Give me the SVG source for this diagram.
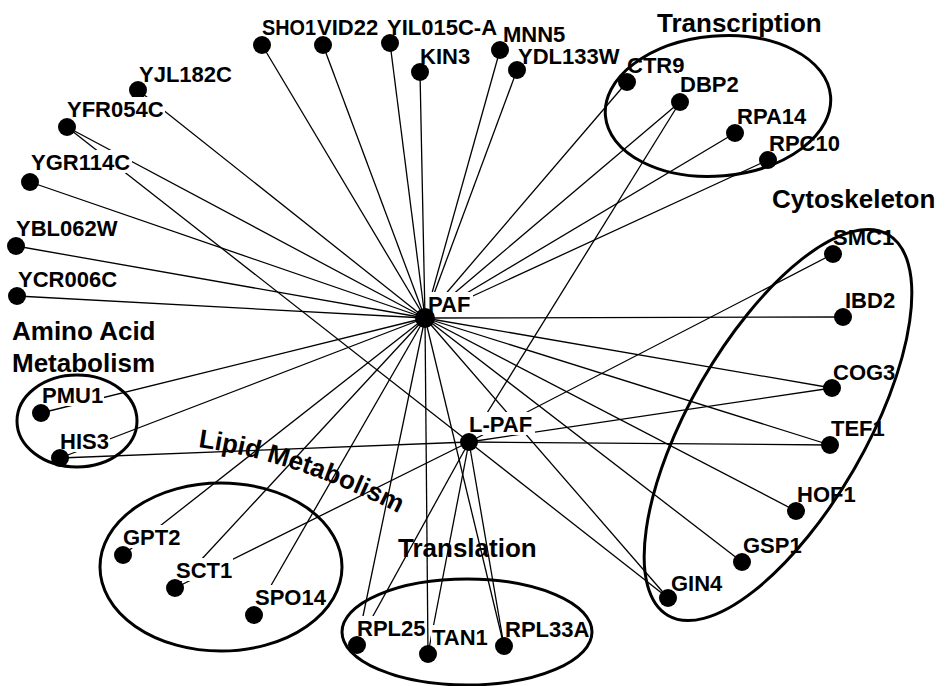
<svg xmlns="http://www.w3.org/2000/svg" width="946" height="686" viewBox="0 0 946 686">
<style>
.bg{fill:#fff}
#connectors line{stroke:#000;stroke-width:1.3;fill:none}
.n circle{fill:#000}
.n rect{fill:#fff}
.n text{font-family:"Liberation Sans",Arial,sans-serif;font-weight:bold;font-size:22px;fill:#000}
.cl ellipse{fill:none;stroke:#000;stroke-width:3}
.cl text{font-family:"Liberation Sans",Arial,sans-serif;font-weight:bold;font-size:26px;fill:#000}
</style>
<defs>
<path id="lipidPath" d="M198,447 Q298,461 404,516"/>
</defs>
<rect class="bg" x="0" y="0" width="946" height="686"/>
<g id="connectors">
<line x1="425" y1="318" x2="262" y2="45"/>
<line x1="425" y1="318" x2="323" y2="45"/>
<line x1="425" y1="318" x2="390" y2="43"/>
<line x1="425" y1="318" x2="420" y2="72"/>
<line x1="425" y1="318" x2="500" y2="50"/>
<line x1="425" y1="318" x2="517" y2="70"/>
<line x1="425" y1="318" x2="627" y2="82"/>
<line x1="425" y1="318" x2="680" y2="102"/>
<line x1="425" y1="318" x2="735" y2="133"/>
<line x1="425" y1="318" x2="768" y2="160"/>
<line x1="425" y1="318" x2="138" y2="90"/>
<line x1="425" y1="318" x2="67" y2="127"/>
<line x1="425" y1="318" x2="30" y2="182"/>
<line x1="425" y1="318" x2="16" y2="246"/>
<line x1="425" y1="318" x2="17" y2="296"/>
<line x1="425" y1="318" x2="41" y2="413"/>
<line x1="425" y1="318" x2="60" y2="458"/>
<line x1="425" y1="318" x2="123" y2="555"/>
<line x1="425" y1="318" x2="175" y2="588"/>
<line x1="425" y1="318" x2="254" y2="615"/>
<line x1="425" y1="318" x2="357" y2="645"/>
<line x1="425" y1="318" x2="428" y2="654"/>
<line x1="425" y1="318" x2="504" y2="646"/>
<line x1="425" y1="318" x2="668" y2="598"/>
<line x1="425" y1="318" x2="742" y2="562"/>
<line x1="425" y1="318" x2="796" y2="511"/>
<line x1="425" y1="318" x2="830" y2="445"/>
<line x1="425" y1="318" x2="832" y2="388"/>
<line x1="425" y1="318" x2="843" y2="317"/>
<line x1="469" y1="442" x2="67" y2="127"/>
<line x1="469" y1="442" x2="60" y2="458"/>
<line x1="469" y1="442" x2="175" y2="588"/>
<line x1="469" y1="442" x2="357" y2="645"/>
<line x1="469" y1="442" x2="428" y2="654"/>
<line x1="469" y1="442" x2="504" y2="646"/>
<line x1="469" y1="442" x2="668" y2="598"/>
<line x1="469" y1="442" x2="830" y2="445"/>
<line x1="469" y1="442" x2="832" y2="388"/>
<line x1="469" y1="442" x2="833" y2="254"/>
<line x1="469" y1="442" x2="680" y2="102"/>
</g>
<g id="node-SHO1" class="n"><rect x="261" y="15" width="55" height="23"/><text x="262" y="35" textLength="54" lengthAdjust="spacingAndGlyphs">SHO1</text><circle cx="262" cy="45" r="9"/></g>
<g id="node-VID22" class="n"><rect x="316" y="15" width="68" height="23"/><text x="317" y="35">VID22</text><circle cx="323" cy="45" r="9"/></g>
<g id="node-YIL015C-A" class="n"><rect x="386" y="15" width="112" height="23"/><text x="387" y="35">YIL015C-A</text><circle cx="390" cy="43" r="9"/></g>
<g id="node-MNN5" class="n"><rect x="502" y="23" width="64" height="21"/><text x="503" y="42">MNN5</text><circle cx="500" cy="50" r="9"/></g>
<g id="node-KIN3" class="n"><rect x="419" y="45" width="52" height="22"/><text x="420" y="64">KIN3</text><circle cx="420" cy="72" r="9"/></g>
<g id="node-YDL133W" class="n"><rect x="517" y="46" width="103" height="21"/><text x="518" y="64">YDL133W</text><circle cx="517" cy="70" r="9"/></g>
<g id="node-CTR9" class="n"><rect x="626" y="53" width="59" height="23"/><text x="627" y="73">CTR9</text><circle cx="627" cy="82" r="9"/></g>
<g id="node-DBP2" class="n"><rect x="679" y="72" width="61" height="23"/><text x="680" y="92">DBP2</text><circle cx="680" cy="102" r="9"/></g>
<g id="node-RPA14" class="n"><rect x="736" y="104" width="73" height="23"/><text x="737" y="124">RPA14</text><circle cx="735" cy="133" r="9"/></g>
<g id="node-RPC10" class="n"><rect x="768" y="131" width="73" height="23"/><text x="769" y="151">RPC10</text><circle cx="768" cy="160" r="9"/></g>
<g id="node-YJL182C" class="n"><rect x="138" y="62" width="95" height="23"/><text x="139" y="82">YJL182C</text><circle cx="138" cy="90" r="9"/></g>
<g id="node-YFR054C" class="n"><rect x="66" y="97" width="99" height="23"/><text x="67" y="117">YFR054C</text><circle cx="67" cy="127" r="9"/></g>
<g id="node-YGR114C" class="n"><rect x="30" y="150" width="102" height="23"/><text x="31" y="170">YGR114C</text><circle cx="30" cy="182" r="9"/></g>
<g id="node-YBL062W" class="n"><rect x="15" y="216" width="104" height="23"/><text x="16" y="236">YBL062W</text><circle cx="16" cy="246" r="9"/></g>
<g id="node-YCR006C" class="n"><rect x="17" y="267" width="101" height="23"/><text x="18" y="287">YCR006C</text><circle cx="17" cy="296" r="9"/></g>
<g id="node-PMU1" class="n"><rect x="41" y="383" width="63" height="23"/><text x="42" y="403">PMU1</text><circle cx="41" cy="413" r="9"/></g>
<g id="node-HIS3" class="n"><rect x="59" y="429" width="51" height="23"/><text x="60" y="449">HIS3</text><circle cx="60" cy="458" r="9"/></g>
<g id="node-SMC1" class="n"><rect x="832" y="225" width="63" height="23"/><text x="833" y="245">SMC1</text><circle cx="833" cy="254" r="9"/></g>
<g id="node-IBD2" class="n"><rect x="844" y="288" width="52" height="23"/><text x="845" y="308">IBD2</text><circle cx="843" cy="317" r="9"/></g>
<g id="node-COG3" class="n"><rect x="832" y="360" width="64" height="23"/><text x="833" y="380">COG3</text><circle cx="832" cy="388" r="9"/></g>
<g id="node-TEF1" class="n"><rect x="830" y="416" width="56" height="23"/><text x="831" y="436">TEF1</text><circle cx="830" cy="445" r="9"/></g>
<g id="node-HOF1" class="n"><rect x="796" y="482" width="61" height="23"/><text x="797" y="502">HOF1</text><circle cx="796" cy="511" r="9"/></g>
<g id="node-GSP1" class="n"><rect x="742" y="533" width="61" height="23"/><text x="743" y="553">GSP1</text><circle cx="742" cy="562" r="9"/></g>
<g id="node-GIN4" class="n"><rect x="670" y="571" width="53" height="23"/><text x="671" y="591">GIN4</text><circle cx="668" cy="598" r="9"/></g>
<g id="node-GPT2" class="n"><rect x="122" y="525" width="60" height="23"/><text x="123" y="545">GPT2</text><circle cx="123" cy="555" r="9"/></g>
<g id="node-SCT1" class="n"><rect x="175" y="558" width="58" height="23"/><text x="176" y="578">SCT1</text><circle cx="175" cy="588" r="9"/></g>
<g id="node-SPO14" class="n"><rect x="254" y="585" width="73" height="23"/><text x="255" y="605">SPO14</text><circle cx="254" cy="615" r="9"/></g>
<g id="node-RPL25" class="n"><rect x="356" y="616" width="71" height="23"/><text x="357" y="636">RPL25</text><circle cx="357" cy="645" r="9"/></g>
<g id="node-TAN1" class="n"><rect x="431" y="625" width="59" height="23"/><text x="432" y="645">TAN1</text><circle cx="428" cy="654" r="9"/></g>
<g id="node-RPL33A" class="n"><rect x="504" y="617" width="86" height="23"/><text x="505" y="637">RPL33A</text><circle cx="504" cy="646" r="9"/></g>
<g id="node-PAF" class="n"><rect x="427" y="292" width="46" height="23"/><text x="428" y="312">PAF</text><circle cx="425" cy="318" r="10"/></g>
<g id="node-L-PAF" class="n"><rect x="468" y="412" width="67" height="23"/><text x="469" y="432">L-PAF</text><circle cx="469" cy="442" r="9"/></g>
<g id="cluster-transcription" class="cl"><ellipse cx="718" cy="106" rx="113" ry="70" transform="rotate(-5 718 106)"/><text x="657" y="32">Transcription</text></g>
<g id="cluster-cytoskeleton" class="cl"><ellipse cx="778" cy="425" rx="220" ry="88" transform="rotate(-60 778 425)"/><text x="772" y="208">Cytoskeleton</text></g>
<g id="cluster-amino" class="cl"><ellipse cx="77" cy="421" rx="60" ry="46"/><text x="12" y="340">Amino Acid</text><text x="12" y="372">Metabolism</text></g>
<g id="cluster-lipid" class="cl"><ellipse cx="221" cy="567" rx="121" ry="84"/><text><textPath href="#lipidPath">Lipid Metabolism</textPath></text></g>
<g id="cluster-translation" class="cl"><ellipse cx="467" cy="632" rx="125" ry="53"/><text x="398" y="557">Translation</text></g>
</svg>
